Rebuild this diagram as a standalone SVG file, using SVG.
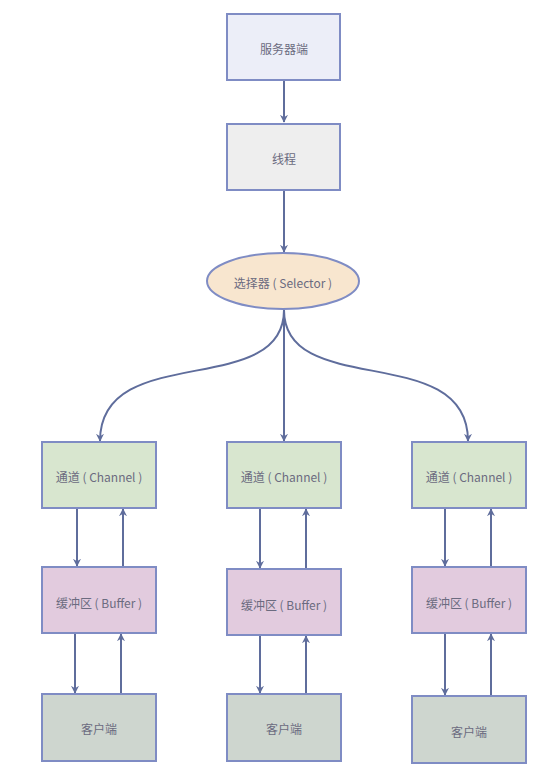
<svg xmlns="http://www.w3.org/2000/svg" width="551" height="771" viewBox="0 0 551 771">
<style>
.n{stroke:#7f8cc4;stroke-width:2}
.t{font-family:"Noto Sans CJK SC","Noto Sans",sans-serif;font-size:12px;fill:#6b6b80;text-anchor:middle;dominant-baseline:central}
.e{fill:none;stroke:#5f6d9c;stroke-width:2;marker-end:url(#a)}
</style>
<defs>
<marker id="a" viewBox="0 0 10 10" refX="9" refY="5" markerWidth="8" markerHeight="8" orient="auto" markerUnits="userSpaceOnUse">
<path d="M0,0 L10,5 L0,10 L3,5 Z" fill="#5f6d9c"/>
</marker>
</defs>
<rect width="551" height="771" fill="#ffffff"/>
<g id="edges">
<path class="e" d="M284,81 L284,122"/>
<path class="e" d="M284,190 L284,252"/>
<path class="e" d="M284,310 C284,400 100,340 100,441"/>
<path class="e" d="M284,310 L284,441"/>
<path class="e" d="M284,310 C284,400 468,340 468,441"/>
<path class="e" d="M77,508 L77,566"/>
<path class="e" d="M123,567 L123,509"/>
<path class="e" d="M75,633 L75,693"/>
<path class="e" d="M121,694 L121,634"/>
<path class="e" d="M260,508 L260,568"/>
<path class="e" d="M306,569 L306,509"/>
<path class="e" d="M260,635 L260,693"/>
<path class="e" d="M306,694 L306,636"/>
<path class="e" d="M445,508 L445,566"/>
<path class="e" d="M491,567 L491,509"/>
<path class="e" d="M445,633 L445,695"/>
<path class="e" d="M491,696 L491,634"/>
</g>
<g id="server"><rect class="n" x="227" y="14" width="113" height="66" fill="#eceef8"/><text class="t" x="284" y="48">服务器端</text></g>
<g id="thread"><rect class="n" x="227" y="124" width="113" height="66" fill="#eeeeee"/><text class="t" x="284" y="158">线程</text></g>
<g id="selector"><ellipse class="n" cx="283" cy="281" rx="76" ry="28" fill="#f8e6cf"/><text class="t" x="283" y="282">选择器 ( Selector )</text></g>
<g id="channel1"><rect class="n" x="42" y="442" width="114" height="66" fill="#d8e6cf"/><text class="t" x="99" y="476">通道 ( Channel )</text></g>
<g id="buffer1"><rect class="n" x="42" y="567" width="114" height="66" fill="#e2cbde"/><text class="t" x="99" y="602">缓冲区 ( Buffer )</text></g>
<g id="client1"><rect class="n" x="42" y="694" width="114" height="67" fill="#ced6cf"/><text class="t" x="99" y="728">客户端</text></g>
<g id="channel2"><rect class="n" x="227" y="442" width="114" height="66" fill="#d8e6cf"/><text class="t" x="284" y="476">通道 ( Channel )</text></g>
<g id="buffer2"><rect class="n" x="227" y="569" width="114" height="66" fill="#e2cbde"/><text class="t" x="284" y="604">缓冲区 ( Buffer )</text></g>
<g id="client2"><rect class="n" x="227" y="694" width="114" height="67" fill="#ced6cf"/><text class="t" x="284" y="728">客户端</text></g>
<g id="channel3"><rect class="n" x="412" y="442" width="114" height="66" fill="#d8e6cf"/><text class="t" x="469" y="476">通道 ( Channel )</text></g>
<g id="buffer3"><rect class="n" x="412" y="567" width="114" height="66" fill="#e2cbde"/><text class="t" x="469" y="602">缓冲区 ( Buffer )</text></g>
<g id="client3"><rect class="n" x="412" y="696" width="114" height="67" fill="#ced6cf"/><text class="t" x="469" y="731">客户端</text></g>
</svg>
